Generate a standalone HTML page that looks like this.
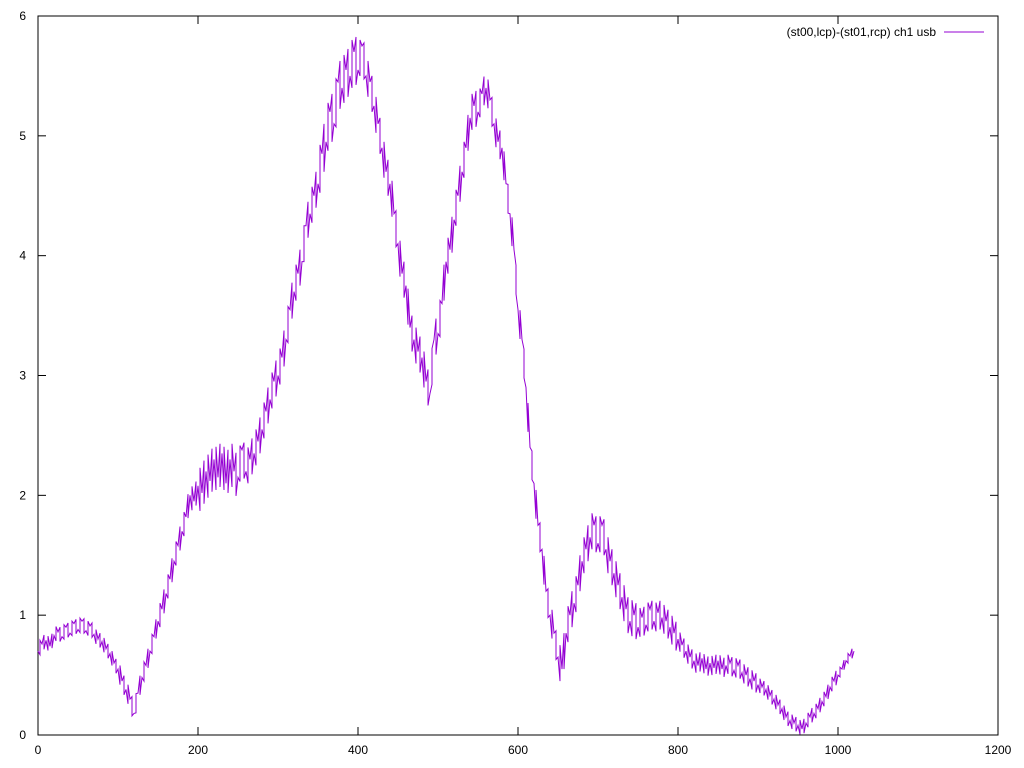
<!DOCTYPE html>
<html><head><meta charset="utf-8"><style>
html,body{margin:0;padding:0;background:#fff;}
svg{display:block;font-family:"Liberation Sans",sans-serif;font-size:12px;}
</style></head><body>
<svg id="chart" width="1024" height="768" viewBox="0 0 1024 768" xmlns="http://www.w3.org/2000/svg">
<rect x="0" y="0" width="1024" height="768" fill="#fff"/>
<g id="axes"></g>
<path id="series" fill="none" stroke="#9400d3" stroke-width="1"/>
<g>
<text x="936" y="36" text-anchor="end" fill="#000">(st00,lcp)-(st01,rcp) ch1 usb</text>
<line x1="944" y1="32" x2="984" y2="32" stroke="#9400d3" stroke-width="1"/>
</g>
</svg>
<script>
const xTicks = [0,200,400,600,800,1000,1200];
const yTicks = [0,1,2,3,4,5,6];
const xStep = 5;
const values = [0.70,0.76,0.79,0.74,0.83,0.86,0.82,0.90,0.85,0.93,0.88,0.95,0.87,0.91,0.84,0.80,0.78,0.72,0.68,0.60,
0.55,0.45,0.38,0.30,0.18,0.35,0.48,0.58,0.70,0.82,0.95,1.05,1.18,1.30,1.45,1.58,1.70,1.82,2.00,1.95,
2.08,2.02,2.20,2.12,2.30,2.15,2.35,2.10,2.30,2.20,2.15,2.38,2.20,2.30,2.35,2.45,2.55,2.70,2.80,2.95,
3.00,3.15,3.30,3.55,3.70,3.85,3.95,4.25,4.35,4.50,4.60,4.85,4.95,5.20,5.10,5.45,5.40,5.55,5.50,5.70,
5.55,5.75,5.50,5.45,5.25,5.10,4.90,4.70,4.60,4.35,4.10,3.85,3.75,3.40,3.30,3.20,3.15,2.95,2.85,3.30,
3.35,3.60,3.95,4.05,4.30,4.50,4.70,4.90,5.15,5.25,5.20,5.35,5.40,5.30,5.10,4.95,4.90,4.60,4.35,4.05,
3.55,3.30,2.90,2.40,2.10,1.75,1.55,1.20,1.00,0.85,0.65,0.55,0.85,1.00,1.10,1.25,1.45,1.55,1.65,1.75,
1.60,1.75,1.55,1.45,1.35,1.25,1.15,1.05,0.95,1.00,0.90,0.98,0.92,1.05,0.95,1.02,0.98,0.95,0.90,0.85,
0.80,0.75,0.70,0.65,0.62,0.58,0.64,0.55,0.60,0.56,0.62,0.55,0.58,0.60,0.54,0.58,0.52,0.50,0.47,0.45,
0.42,0.40,0.38,0.33,0.30,0.25,0.22,0.15,0.12,0.10,0.08,0.05,0.10,0.15,0.18,0.22,0.28,0.32,0.40,0.45,
0.50,0.55,0.62,0.66,0.70];
// estimated half-width of the noise band per 50-unit segment of x
const noiseBand = [0.06,0.06,0.08,0.10,0.18,0.15,0.15,0.20,0.15,0.15,0.15,0.12,0.12,0.15,0.15,0.12,0.08,0.08,0.06,0.06,0.04];

const L=38,R=998,T=16,B=735;
const xs = v => L + (v-0)/(1200-0)*(R-L);
const ys = v => B - (v-0)/(6-0)*(B-T);
const NS="http://www.w3.org/2000/svg";
const axes=document.getElementById('axes');
function mk(tag,attrs){const e=document.createElementNS(NS,tag);for(const k in attrs)e.setAttribute(k,attrs[k]);return e;}
const frame=mk('rect',{x:L,y:T,width:R-L,height:B-T,fill:'none',stroke:'#000','stroke-width':1});


axes.appendChild(frame);
xTicks.forEach(t=>{
  const x=xs(t);
  const a=mk('line',{x1:x,y1:B,x2:x,y2:B-8,stroke:'#000'});
  
  
  axes.appendChild(a);
  const b=mk('line',{x1:x,y1:T,x2:x,y2:T+8,stroke:'#000'});
  
  
  axes.appendChild(b);
  const tx=mk('text',{x:x,y:B+19,'text-anchor':'middle',fill:'#000'});
  tx.textContent=t;
  
  
  axes.appendChild(tx);
});
yTicks.forEach(t=>{
  const y=ys(t);
  const a=mk('line',{x1:L,y1:y,x2:L+8,y2:y,stroke:'#000'});
  
  
  axes.appendChild(a);
  const b=mk('line',{x1:R,y1:y,x2:R-8,y2:y,stroke:'#000'});
  
  
  axes.appendChild(b);
  const tx=mk('text',{x:L-12,y:y+4,'text-anchor':'end',fill:'#000'});
  tx.textContent=t;
  
  
  axes.appendChild(tx);
});
let d='';
values.forEach((v,i)=>{
  const x=i*xStep;
  d+=(i?'L':'M')+xs(x).toFixed(2)+' '+ys(v).toFixed(2);
  if(i<values.length-1){
    const a=noiseBand[Math.min(noiseBand.length-1,Math.floor(x/50))];
    const m=(v+values[i+1])/2;
    const xm=xs(x+xStep/2).toFixed(2);
    const s=(i%2)?1:-1;
    d+='L'+xm+' '+ys(m+s*a).toFixed(2)+'L'+xm+' '+ys(m-s*a).toFixed(2);
  }
});
document.getElementById('series').setAttribute('d',d);
</script>
</body></html>
